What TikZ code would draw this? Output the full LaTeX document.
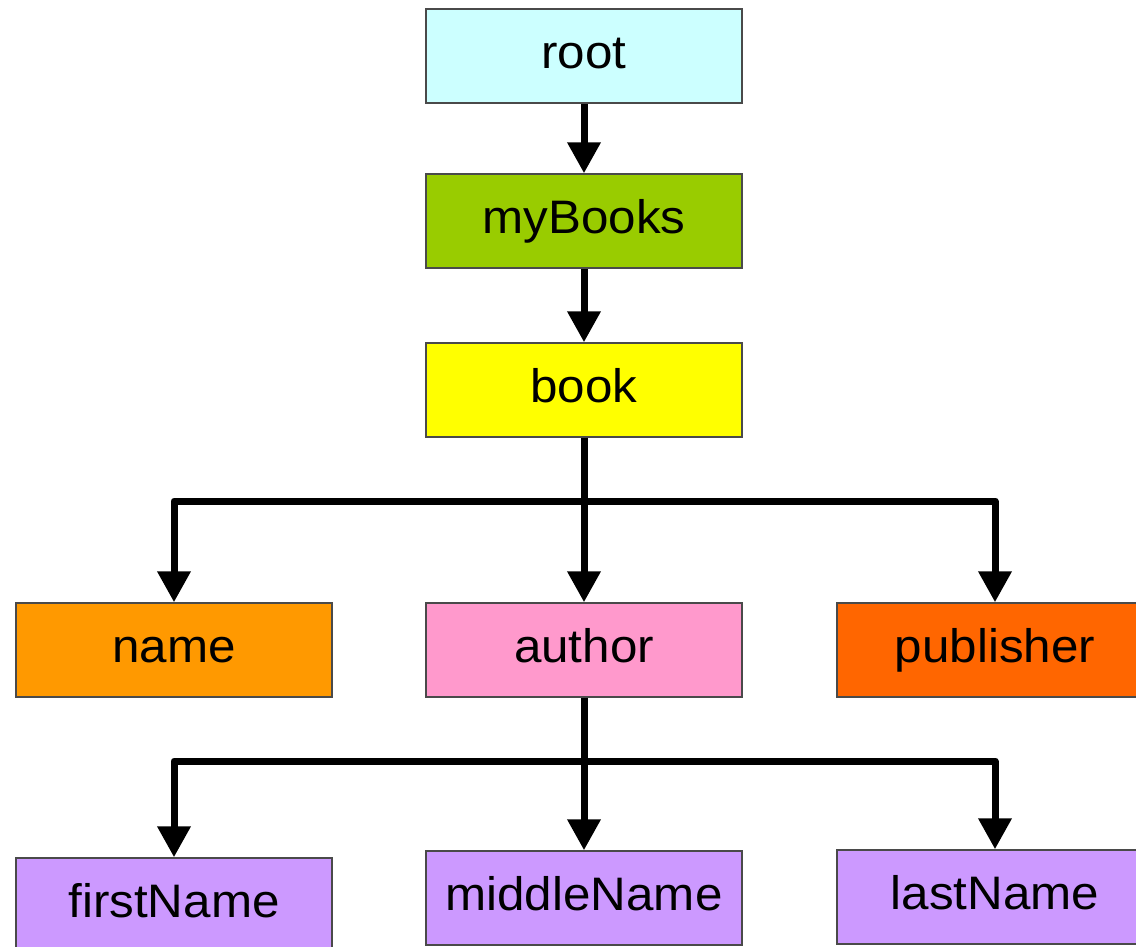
\documentclass[tikz,border=0pt]{standalone}
\usepackage{graphicx}
\usepackage{fontspec}
\setmainfont{Liberation Sans}
\usetikzlibrary{arrows.meta}
\definecolor{cRoot}{HTML}{CCFFFF}
\definecolor{cBooks}{HTML}{99CC00}
\definecolor{cBook}{HTML}{FFFF00}
\definecolor{cName}{HTML}{FF9900}
\definecolor{cAuthor}{HTML}{FF99CC}
\definecolor{cPub}{HTML}{FF6600}
\definecolor{cPurple}{HTML}{CC99FF}
\definecolor{cBorder}{HTML}{4A4A4A}
\newcommand\boxlbl[1]{\scalebox{1.05}[1]{#1}}
\tikzset{
  box/.style={draw=cBorder, line width=1.5pt, minimum width=316pt, minimum height=94pt,
    inner sep=0pt, anchor=center, text height=34pt, text depth=10pt,
    font=\fontsize{47}{50}\selectfont},
  conn/.style={line width=7pt, line join=round, black},
  arr/.style={conn, -{Triangle[width=32pt,length=31pt]}},
}
\begin{document}
\begin{tikzpicture}[x=1pt,y=-1pt]
\useasboundingbox (0,0) rectangle (1136,946);
\clip (0,0) rectangle (1136,946);
\fill[white] (0,0) rectangle (1136,946);
\node[box, fill=cRoot] (root) at (584,56) {\boxlbl{root}};
\node[box, fill=cBooks] (mybooks) at (584,221) {\boxlbl{myBooks}};
\node[box, fill=cBook] (book) at (584,390) {\boxlbl{book}};
\node[box, fill=cName] (name) at (174,650) {\boxlbl{name}};
\node[box, fill=cAuthor] (author) at (584,650) {\boxlbl{author}};
\node[box, fill=cPub] (publisher) at (995,650) {\boxlbl{publisher}};
\node[box, fill=cPurple] (first) at (174,905) {\boxlbl{firstName}};
\node[box, fill=cPurple] (middle) at (584,898) {\boxlbl{middleName}};
\node[box, fill=cPurple] (last) at (995,897) {\boxlbl{lastName}};
\coordinate (j1) at (584,501);
\coordinate (j2) at (584,761);
\draw[arr] (root.south) -- (mybooks.north);
\draw[arr] (mybooks.south) -- (book.north);
\draw[arr] (book.south) -- (author.north);
\draw[arr] (j1) -| (name.north);
\draw[arr] (j1) -| (publisher.north);
\draw[arr] (author.south) -- (middle.north);
\draw[arr] (j2) -| (first.north);
\draw[arr] (j2) -| (last.north);
\end{tikzpicture}
\end{document}
